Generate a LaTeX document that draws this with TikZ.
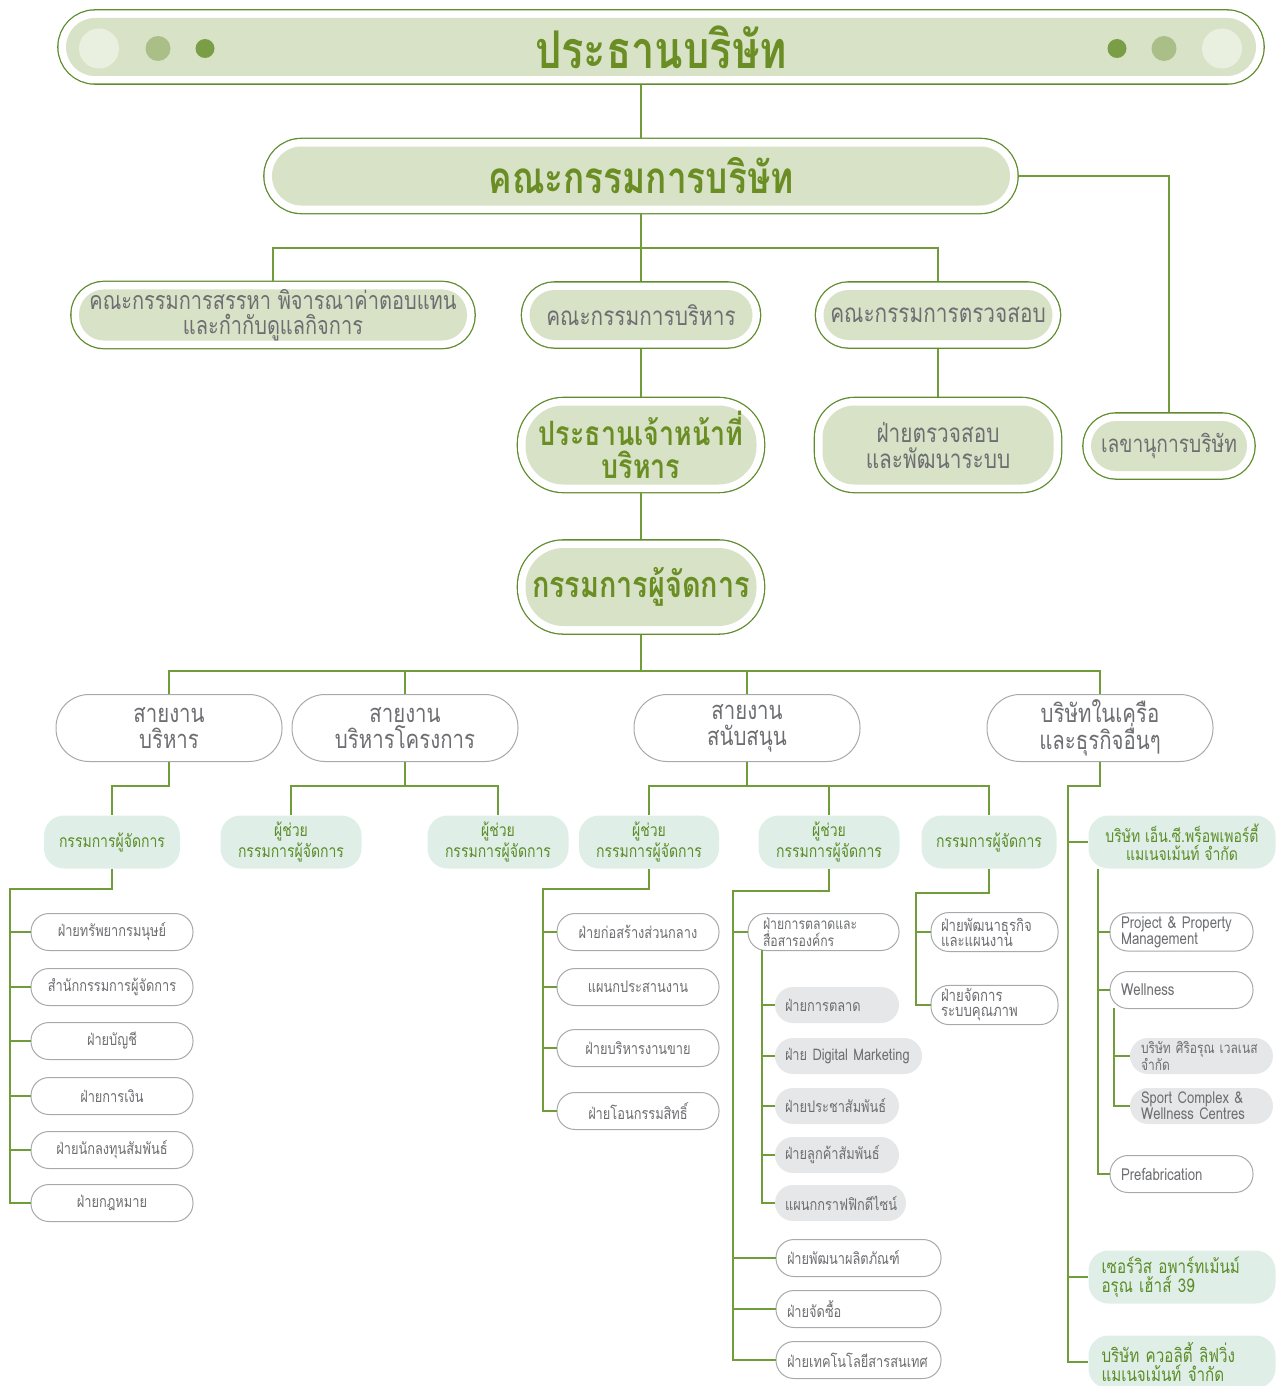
\documentclass[tikz,border=0pt]{standalone}
\usepackage{fontspec}
\setmainfont[Script=Thai,FakeStretch=0.8]{Loma}
\usetikzlibrary{calc}
\definecolor{linegreen}{RGB}{112,156,58}
\definecolor{rimgreen}{RGB}{96,140,45}
\definecolor{headfill}{RGB}{216,226,199}
\definecolor{headtxt}{RGB}{106,142,35}
\definecolor{bodygray}{RGB}{109,110,113}
\definecolor{rimgray}{RGB}{167,169,172}
\definecolor{mintfill}{RGB}{223,239,231}
\definecolor{minttxt}{RGB}{92,140,40}
\definecolor{greyfill}{RGB}{230,231,232}
\definecolor{dotpale}{RGB}{234,240,224}
\definecolor{dotmid}{RGB}{169,191,135}
\definecolor{dotdark}{RGB}{122,158,69}
\newcommand{\fsz}[2]{\fontsize{#1}{#2}\selectfont}

\begin{document}
\begin{tikzpicture}[x=1pt,y=-1pt,
  conn/.style={draw=linegreen, line width=1.4pt},
  headpill/.style={rectangle, rounded corners=#1, fill=headfill, inner sep=0pt, outer sep=8.8pt,
    preaction={draw=rimgreen, line width=17.6pt}, preaction={draw=white, line width=15pt}},
  boldhead/.style={text=headtxt, font=\fsz{#1}{#1}\bfseries, align=center},
  grayhead/.style={text=bodygray, font=\fsz{26}{26}, align=center},
  divpill/.style={rectangle, rounded corners=33pt, draw=rimgray, line width=1pt, fill=white,
    minimum width=226pt, minimum height=67pt, text=bodygray, font=\fsz{25.5}{26}, align=center},
  mintbox/.style={rectangle, rounded corners=20pt, fill=mintfill, minimum height=53pt,
    text=minttxt, font=\fsz{17.5}{18}, align=center},
  unitbox/.style={rectangle, rounded corners=18pt, draw=rimgray, line width=1pt, fill=white,
    minimum height=37pt, text=bodygray, font=\fsz{16}{16}, align=center},
  greybox/.style={rectangle, rounded corners=18pt, fill=greyfill, minimum height=36pt,
    text=bodygray, font=\fsz{16}{16}},
  leftal/.style={align=left, inner xsep=11pt, text width=#1}]
  \useasboundingbox (0,0) rectangle (1276,1386);
  % Top of the chart
  \node[headpill=29pt, minimum width=1190pt, minimum height=58pt, boldhead=52] (chair) at (661,47) {ประธานบริษัท};
  \foreach \x/\r/\c in {99/20pt/dotpale, 158/12.5pt/dotmid, 205/9.5pt/dotdark,
                        1117/9.5pt/dotdark, 1164/12.5pt/dotmid, 1222/20pt/dotpale}
    \fill[\c] (\x,48.5) circle[radius=\r];
  \node[headpill=29.5pt, minimum width=738pt, minimum height=59pt, boldhead=44] (board) at (641,176) {คณะกรรมการบริษัท};
  \node[headpill=25pt, minimum width=388pt, minimum height=50pt, grayhead, font=\fsz{25}{24.5}] (remun) at (273,315) {คณะกรรมการสรรหา พิจารณาค่าตอบแทน\\และกำกับดูแลกิจการ};
  \node[headpill=25pt, minimum width=223pt, minimum height=50pt, grayhead] (exec) at (641,315) {คณะกรรมการบริหาร};
  \node[headpill=25pt, minimum width=229pt, minimum height=50pt, grayhead] (audit) at (938,315) {คณะกรรมการตรวจสอบ};
  \node[headpill=38pt, minimum width=231pt, minimum height=79pt, boldhead=33.5, font=\fsz{33.5}{33}\bfseries] (ceo) at (641,445) {ประธานเจ้าหน้าที่\\บริหาร};
  \node[headpill=32pt, minimum width=231pt, minimum height=79pt, grayhead] (auditdept) at (938,445) {ฝ่ายตรวจสอบ\\และพัฒนาระบบ};
  \node[headpill=25pt, minimum width=156pt, minimum height=50pt, grayhead, font=\fsz{24}{24}] (secr) at (1169,446) {เลขานุการบริษัท};
  \node[headpill=38pt, minimum width=231pt, minimum height=78pt, boldhead=36] (md) at (641,587) {กรรมการผู้จัดการ};
  % Lines of work
  \node[divpill] (lineA) at (169,728) {สายงาน\\บริหาร};
  \node[divpill] (lineB) at (405,728) {สายงาน\\บริหารโครงการ};
  \node[divpill] (lineC) at (747,728) {สายงาน\\สนับสนุน};
  \node[divpill] (lineD) at (1100,728) {บริษัทในเครือ\\และธุรกิจอื่นๆ};
  % Managers
  \node[mintbox, minimum width=136pt] (mdA) at (112,842) {กรรมการผู้จัดการ};
  \node[mintbox, minimum width=141pt] (amdA) at (291,842) {ผู้ช่วย\\กรรมการผู้จัดการ};
  \node[mintbox, minimum width=141pt] (amdB) at (498,842) {ผู้ช่วย\\กรรมการผู้จัดการ};
  \node[mintbox, minimum width=140pt] (amdC) at (649,842) {ผู้ช่วย\\กรรมการผู้จัดการ};
  \node[mintbox, minimum width=141pt] (amdD) at (829,842) {ผู้ช่วย\\กรรมการผู้จัดการ};
  \node[mintbox, minimum width=135pt] (mdB) at (989,842) {กรรมการผู้จัดการ};
  \node[mintbox, minimum width=187pt] (ncp) at (1182,842) {บริษัท เอ็น.ซี.พร็อพเพอร์ตี้\\แมเนจเม้นท์ จำกัด};
  \node[mintbox, leftal=161pt, inner xsep=13pt, font=\fsz{19}{19}] (service) at (1182,1277) {เซอร์วิส อพาร์ทเม้นม์\\อรุณ เฮ้าส์ 39};
  \node[mintbox, leftal=161pt, inner xsep=13pt, font=\fsz{19}{19}] (quality) at (1182,1362) {บริษัท ควอลิตี้ ลิฟวิ่ง\\แมเนจเม้นท์ จำกัด};
  % Departments, administration
  \node[unitbox, minimum width=162pt] (hr) at (112,932) {ฝ่ายทรัพยากรมนุษย์};
  \node[unitbox, minimum width=162pt] (office) at (112,987) {สำนักกรรมการผู้จัดการ};
  \node[unitbox, minimum width=162pt] (acct) at (112,1041) {ฝ่ายบัญชี};
  \node[unitbox, minimum width=162pt] (fin) at (112,1096) {ฝ่ายการเงิน};
  \node[unitbox, minimum width=162pt] (ir) at (112,1150) {ฝ่ายนักลงทุนสัมพันธ์};
  \node[unitbox, minimum width=162pt] (legal) at (112,1203) {ฝ่ายกฎหมาย};
  % Departments, support
  \node[unitbox, minimum width=162pt] (build) at (638,932) {ฝ่ายก่อสร้างส่วนกลาง};
  \node[unitbox, minimum width=162pt] (coord) at (638,987) {แผนกประสานงาน};
  \node[unitbox, minimum width=162pt] (sales) at (638,1048) {ฝ่ายบริหารงานขาย};
  \node[unitbox, minimum width=162pt] (transfer) at (638,1111) {ฝ่ายโอนกรรมสิทธิ์};
  \node[unitbox, leftal=121pt, inner xsep=15pt, font=\fsz{15.3}{15}] (mkcomm) at (823.5,932) {ฝ่ายการตลาดและ\\สื่อสารองค์กร};
  \node[greybox, leftal=104pt, inner xsep=10pt] (mkt) at (837,1005) {ฝ่ายการตลาด};
  \node[greybox, leftal=127pt, inner xsep=10pt] (digital) at (848.5,1056) {\mbox{ฝ่าย Digital Marketing}};
  \node[greybox, leftal=104pt, inner xsep=10pt] (pr) at (837,1106) {ฝ่ายประชาสัมพันธ์};
  \node[greybox, leftal=104pt, inner xsep=10pt] (crm) at (837,1155) {ฝ่ายลูกค้าสัมพันธ์};
  \node[greybox, leftal=111pt, inner xsep=10pt] (graphic) at (840.5,1203) {แผนกกราฟฟิกดีไซน์};
  \node[unitbox, leftal=143pt] (proddev) at (858.5,1258) {ฝ่ายพัฒนาผลิตภัณฑ์};
  \node[unitbox, leftal=143pt] (purch) at (858.5,1309) {ฝ่ายจัดซื้อ};
  \node[unitbox, leftal=143pt] (itdept) at (858.5,1360) {ฝ่ายเทคโนโลยีสารสนเทศ};
  \node[unitbox, leftal=107pt, inner xsep=10pt, minimum height=39pt, font=\fsz{16.5}{15}] (bizdev) at (994.5,932) {ฝ่ายพัฒนาธุรกิจ\\และแผนงาน};
  \node[unitbox, leftal=107pt, inner xsep=10pt, minimum height=39pt, font=\fsz{16.5}{15}] (qsys) at (994.5,1005) {ฝ่ายจัดการ\\ระบบคุณภาพ};
  % Affiliates
  \node[unitbox, leftal=121pt, font=\fsz{16.5}{15}] (ppm) at (1181.5,932) {Project \& Property\\Management};
  \node[unitbox, leftal=121pt, font=\fsz{16.5}{15}] (well) at (1181.5,990) {Wellness};
  \node[greybox, leftal=121pt, font=\fsz{15}{14}] (siri) at (1201.5,1056) {บริษัท ศิริอรุณ เวลเนส\\จำกัด};
  \node[greybox, leftal=121pt, font=\fsz{16.3}{15}] (sport) at (1201.5,1106) {Sport Complex \&\\Wellness Centres};
  \node[unitbox, leftal=121pt, font=\fsz{16.5}{15}] (prefab) at (1181.5,1174) {Prefabrication};
  % Edges
  \draw[conn] (chair.south -| board.north) -- (board.north);
  \draw[conn] (board.east) -| (secr.north);
  \coordinate (jA) at (641,248);
  \draw[conn] (board.south) -- (exec.north);
  \draw[conn] (remun.north) |- (jA) -| (audit.north);
  \draw[conn] (exec.south) -- (ceo.north);
  \draw[conn] (audit.south) -- (auditdept.north);
  \draw[conn] (ceo.south) -- (md.north);
  \coordinate (jB) at (641,671);
  \draw[conn] (md.south) -- (jB);
  \draw[conn] (lineA.north) |- (jB) -| (lineD.north);
  \draw[conn] (lineB.north) -- (lineB.north |- jB);
  \draw[conn] (lineC.north) -- (lineC.north |- jB);
  \draw[conn] (lineA.south) -- ++(0,24) -| (mdA.north);
  \draw[conn] (lineB.south) -- ++(0,24) coordinate (jC);
  \draw[conn] (amdA.north) |- (jC) -| (amdB.north);
  \draw[conn] (lineC.south) -- ++(0,24) coordinate (jD);
  \draw[conn] (amdC.north) |- (jD) -| (mdB.north);
  \draw[conn] (amdD.north) -- (amdD.north |- jD);
  \coordinate (spineE) at (1068,786);
  \draw[conn] (lineD.south) |- (spineE) |- (quality.west);
  \draw[conn] (spineE |- ncp.west) -- (ncp.west);
  \draw[conn] (spineE |- service.west) -- (service.west);
  \coordinate (spineA) at (10,889);
  \draw[conn] (mdA.south) |- (spineA) |- (legal.west);
  \foreach \u in {hr,office,acct,fin,ir}
    \draw[conn] (spineA |- \u.west) -- (\u.west);
  \coordinate (spineC) at (543,889);
  \draw[conn] (amdC.south) |- (spineC) |- (transfer.west);
  \foreach \u in {build,coord,sales}
    \draw[conn] (spineC |- \u.west) -- (\u.west);
  \coordinate (spineD) at (733,891);
  \draw[conn] (amdD.south) |- (spineD) |- (itdept.west);
  \foreach \u in {mkcomm,proddev,purch}
    \draw[conn] (spineD |- \u.west) -- (\u.west);
  \coordinate (spineM) at (762,950);
  \draw[conn] (spineM) |- (graphic.west);
  \foreach \u in {mkt,digital,pr,crm}
    \draw[conn] (spineM |- \u.west) -- (\u.west);
  \coordinate (spineF) at (916,893);
  \draw[conn] (mdB.south) |- (spineF) |- (qsys.west);
  \draw[conn] (spineF |- bizdev.west) -- (bizdev.west);
  \coordinate (spineN) at (1098,869);
  \draw[conn] (spineN) |- (prefab.west);
  \foreach \u in {ppm,well}
    \draw[conn] (spineN |- \u.west) -- (\u.west);
  \coordinate (spineW) at (1114,1008);
  \draw[conn] (spineW) |- (sport.west);
  \draw[conn] (spineW |- siri.west) -- (siri.west);
\end{tikzpicture}
\end{document}
